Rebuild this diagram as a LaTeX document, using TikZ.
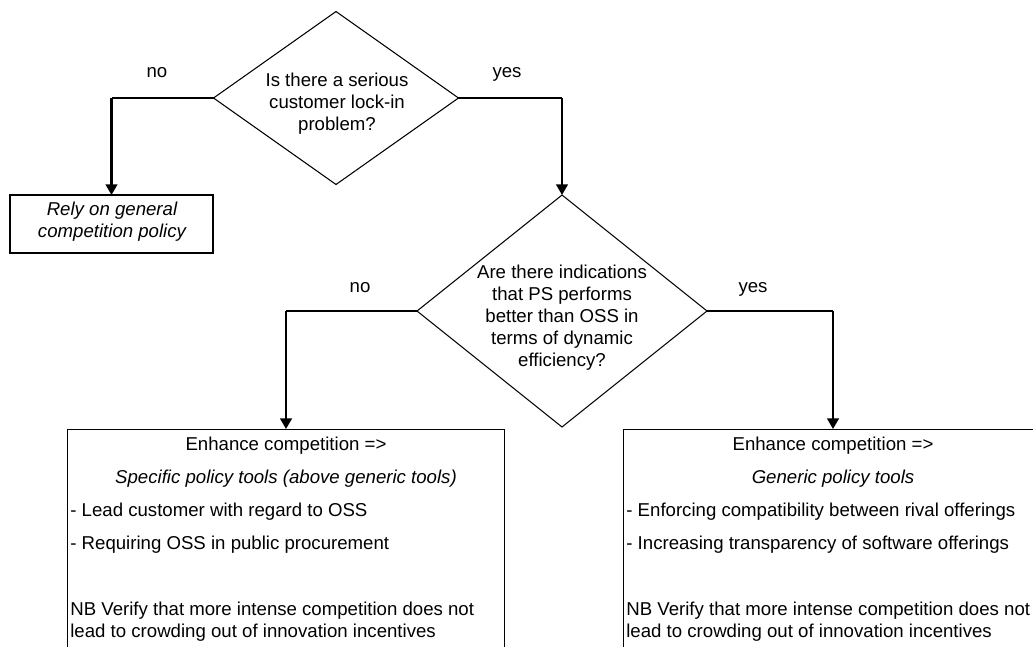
\documentclass[tikz,border=0pt]{standalone}
\usepackage{fontspec}
\setmainfont{Liberation Sans}
\usetikzlibrary{shapes.geometric}
\usetikzlibrary{arrows.meta}

\begin{document}
\begin{tikzpicture}[x=0.02cm,y=-0.02cm,
  decision/.style={diamond,draw=black,line width=0.6pt,inner sep=0pt,outer sep=0pt},
  outcome/.style={rectangle,draw=black,line width=0.6pt,inner sep=0pt,outer sep=0pt},
  txt/.style={font=\fontsize{10.6}{12.5}\selectfont,text=black,inner sep=0pt},
  itxt/.style={font=\fontsize{10.6}{12.5}\selectfont\itshape,text=black,inner sep=0pt},
  flowline/.style={draw=black,line width=0.6pt},
  flowarrow/.style={draw=black,line width=1.4pt,-{Triangle[width=6.5pt,length=6pt]}}]
\useasboundingbox (0,0) rectangle (1033,646);
\clip (0,0) rectangle (1033,646);

\node[decision,minimum width=4.9cm,minimum height=3.46cm] (lockin) at (336,98) {};
\node[txt,align=center] (lockintxt) at (337,104) {Is there a serious\\customer lock-in\\problem?};
\node[outcome,minimum width=4.06cm,minimum height=1.16cm] (rely) at (111.5,224) {};
\node[itxt,align=center] (relytxt) at (112,222) {Rely on general\\competition policy};

\node[decision,minimum width=5.8cm,minimum height=4.64cm] (dynamic) at (562,311) {};
\node[txt,align=center] (dynamictxt) at (562,318) {Are there indications\\that PS performs\\better than OSS in\\terms of dynamic\\efficiency?};

\node[outcome,minimum width=8.76cm,minimum height=6cm] (specific) at (286,579) {};
\node[outcome,minimum width=8.4cm,minimum height=6cm] (generic) at (833,579) {};

\node[txt,anchor=base] (noone) at (157,77) {no};
\node[txt,anchor=base] (yesone) at (507,77) {yes};
\node[txt,anchor=base] (notwo) at (360,292) {no};
\node[txt,anchor=base] (yestwo) at (753,292) {yes};

\coordinate (noA) at (lockin.west -| rely.north);
\coordinate (yesA) at (lockin.east -| dynamic.north);
\coordinate (noB) at (dynamic.west -| specific.north);
\coordinate (yesB) at (dynamic.east -| generic.north);
\draw[flowline] (lockin.west) -- (noA);
\draw[flowarrow] (noA) -- (rely.north);
\draw[flowline] (lockin.east) -- (yesA);
\draw[flowarrow] (yesA) -- (dynamic.north);
\draw[flowline] (dynamic.west) -- (noB);
\draw[flowarrow] (noB) -- (specific.north);
\draw[flowline] (dynamic.east) -- (yesB);
\draw[flowarrow] (yesB) -- (generic.north);

\node[txt,anchor=base] (enhL) at (286,450) {Enhance competition =>};
\node[itxt,anchor=base] (toolsL) at (286,483) {Specific policy tools (above generic tools)};
\node[txt,anchor=base west] (leadL) at (70,516) {- Lead customer with regard to OSS};
\node[txt,anchor=base west] (procL) at (70,549) {- Requiring OSS in public procurement};
\node[txt,anchor=base west] (nbL) at (70,615) {NB Verify that more intense competition does not};
\node[txt,anchor=base west] (crowdL) at (70,637) {lead to crowding out of innovation incentives};

\node[txt,anchor=base] (enhR) at (833,450) {Enhance competition =>};
\node[itxt,anchor=base] (toolsR) at (833,483) {Generic policy tools};
\node[txt,anchor=base west] (compatR) at (626,516) {- Enforcing compatibility between rival offerings};
\node[txt,anchor=base west] (transpR) at (626,549) {- Increasing transparency of software offerings};
\node[txt,anchor=base west] (nbR) at (626,615) {NB Verify that more intense competition does not};
\node[txt,anchor=base west] (crowdR) at (626,637) {lead to crowding out of innovation incentives};

\end{tikzpicture}
\end{document}
